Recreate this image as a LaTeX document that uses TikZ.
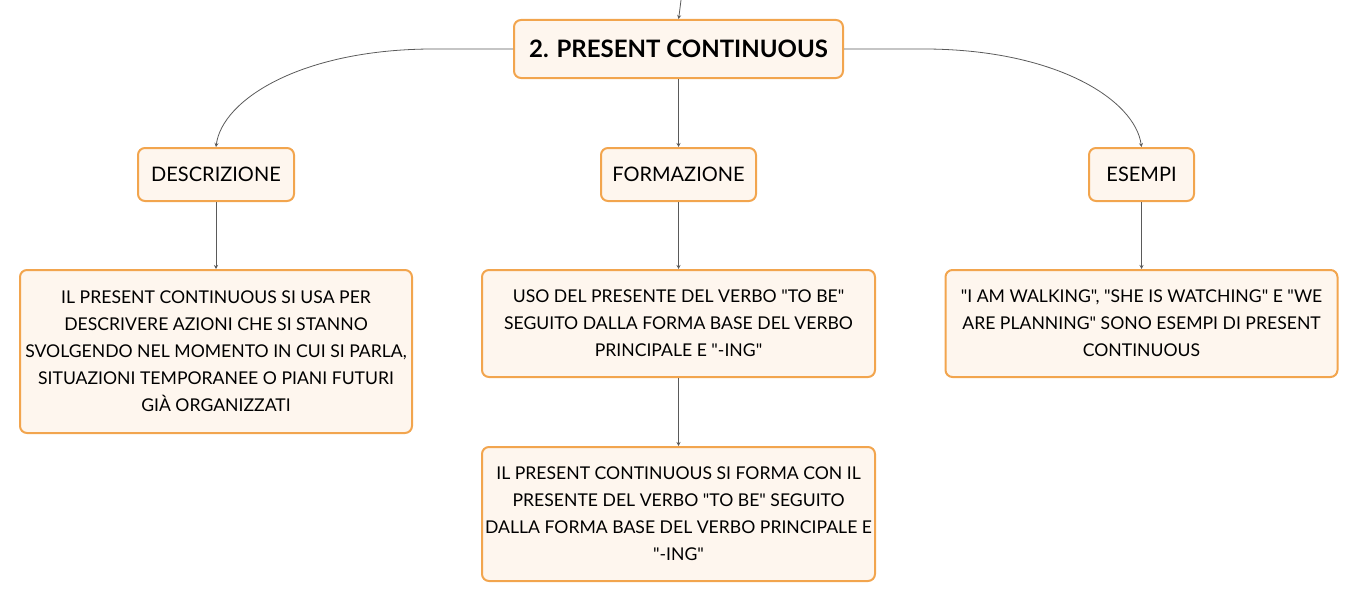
\documentclass[tikz,border=0pt]{standalone}
\usepackage{fontspec}
\setmainfont{Lato}[Ligatures=TeXOff]
\usetikzlibrary{arrows.meta}
\definecolor{boxborder}{HTML}{F2A54E}
\definecolor{boxfill}{HTML}{FEF6EE}
\definecolor{linegray}{HTML}{5A5A5A}
\tikzset{
  mbox/.style={draw=boxborder, fill=boxfill, line width=2pt, rounded corners=7pt, inner sep=0pt, align=center, font=\fontsize{17.6}{27}\selectfont},
  hbox/.style={mbox, minimum height=53pt, font=\fontsize{20}{24}\selectfont},
  conn/.style={draw=linegray, line width=0.8pt, -{Stealth[length=4pt,width=4pt]}},
}
\begin{document}
\begin{tikzpicture}[x=1pt,y=-1pt]
\useasboundingbox (0,0) rectangle (1359,602);
\node[mbox, minimum width=329pt, minimum height=58pt, font=\fontsize{24}{28}\selectfont\bfseries] (top) at (678.5,49) {2. PRESENT CONTINUOUS};
\node[hbox, minimum width=156pt] (desc) at (216,174.5) {DESCRIZIONE};
\node[hbox, minimum width=155pt] (form) at (678.5,174.5) {FORMAZIONE};
\node[hbox, minimum width=105pt] (esem) at (1141.5,174.5) {ESEMPI};
\node[mbox, minimum width=392pt, minimum height=163pt] (desct) at (216,351.5) {IL PRESENT CONTINUOUS SI USA PER\\DESCRIVERE AZIONI CHE SI STANNO\\SVOLGENDO NEL MOMENTO IN CUI SI PARLA,\\SITUAZIONI TEMPORANEE O PIANI FUTURI\\GIÀ ORGANIZZATI};
\node[mbox, minimum width=393pt, minimum height=107pt] (formt) at (678.5,323.5) {USO DEL PRESENTE DEL VERBO "TO BE"\\SEGUITO DALLA FORMA BASE DEL VERBO\\PRINCIPALE E "-ING"};
\node[mbox, minimum width=393pt, minimum height=134pt] (formt2) at (678.5,514) {IL PRESENT CONTINUOUS SI FORMA CON IL\\PRESENTE DEL VERBO "TO BE" SEGUITO\\DALLA FORMA BASE DEL VERBO PRINCIPALE E\\"-ING"};
\node[mbox, minimum width=392pt, minimum height=107pt] (esemt) at (1141.5,323.5) {"I AM WALKING", "SHE IS WATCHING" E "WE\\ARE PLANNING" SONO ESEMPI DI PRESENT\\CONTINUOUS};
\coordinate (in) at (681,0);
\draw[conn] (in) .. controls (680.5,8) .. (top.north);
\draw[conn] (top.west) -- (430,49) .. controls (300,50) and (222,100) .. (desc.north);
\draw[conn] (top.east) -- (927,49) .. controls (1057,50) and (1135,100) .. (esem.north);
\draw[conn] (top.south) -- (form.north);
\draw[conn] (desc.south) -- (desct.north);
\draw[conn] (form.south) -- (formt.north);
\draw[conn] (formt.south) -- (formt2.north);
\draw[conn] (esem.south) -- (esemt.north);
\end{tikzpicture}
\end{document}
